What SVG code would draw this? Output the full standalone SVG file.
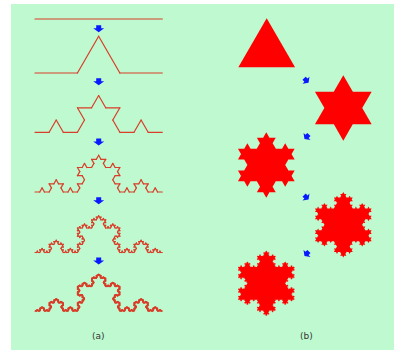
<svg xmlns="http://www.w3.org/2000/svg" xmlns:xlink="http://www.w3.org/1999/xlink" width="394" height="350" viewBox="0 0 394 350">
<style>
.curve{fill:none;stroke:#d83e2a;stroke-linecap:round}
.flake{fill:#ff0000;stroke:none}
.arrow{fill:#0a1aff}
.lbl{font-family:"DejaVu Sans",sans-serif;font-size:9px;fill:#333;text-anchor:middle}
</style>
<defs>
<path id="k0" d="M0,0H1"/>
<g id="k1"><use href="#k0" transform="scale(0.333333)"/><use href="#k0" transform="translate(0.333333,0) rotate(-60) scale(0.333333)"/><use href="#k0" transform="translate(0.5,-0.288675) rotate(60) scale(0.333333)"/><use href="#k0" transform="translate(0.666667,0) scale(0.333333)"/></g>
<g id="k2"><use href="#k1" transform="scale(0.333333)"/><use href="#k1" transform="translate(0.333333,0) rotate(-60) scale(0.333333)"/><use href="#k1" transform="translate(0.5,-0.288675) rotate(60) scale(0.333333)"/><use href="#k1" transform="translate(0.666667,0) scale(0.333333)"/></g>
<g id="k3"><use href="#k2" transform="scale(0.333333)"/><use href="#k2" transform="translate(0.333333,0) rotate(-60) scale(0.333333)"/><use href="#k2" transform="translate(0.5,-0.288675) rotate(60) scale(0.333333)"/><use href="#k2" transform="translate(0.666667,0) scale(0.333333)"/></g>
<g id="k4"><use href="#k3" transform="scale(0.333333)"/><use href="#k3" transform="translate(0.333333,0) rotate(-60) scale(0.333333)"/><use href="#k3" transform="translate(0.5,-0.288675) rotate(60) scale(0.333333)"/><use href="#k3" transform="translate(0.666667,0) scale(0.333333)"/></g>
<g id="k5"><use href="#k4" transform="scale(0.333333)"/><use href="#k4" transform="translate(0.333333,0) rotate(-60) scale(0.333333)"/><use href="#k4" transform="translate(0.5,-0.288675) rotate(60) scale(0.333333)"/><use href="#k4" transform="translate(0.666667,0) scale(0.333333)"/></g>
<polygon id="bump" points="0.333333,0 0.5,-0.288675 0.666667,0 0.5,0.1"/>
<g id="r1"><use href="#bump"/></g>
<g id="r2"><use href="#bump"/><use href="#r1" transform="scale(0.333333)"/><use href="#r1" transform="translate(0.333333,0) rotate(-60) scale(0.333333)"/><use href="#r1" transform="translate(0.5,-0.288675) rotate(60) scale(0.333333)"/><use href="#r1" transform="translate(0.666667,0) scale(0.333333)"/></g>
<g id="r3"><use href="#bump"/><use href="#r2" transform="scale(0.333333)"/><use href="#r2" transform="translate(0.333333,0) rotate(-60) scale(0.333333)"/><use href="#r2" transform="translate(0.5,-0.288675) rotate(60) scale(0.333333)"/><use href="#r2" transform="translate(0.666667,0) scale(0.333333)"/></g>
<g id="r4"><use href="#bump"/><use href="#r3" transform="scale(0.333333)"/><use href="#r3" transform="translate(0.333333,0) rotate(-60) scale(0.333333)"/><use href="#r3" transform="translate(0.5,-0.288675) rotate(60) scale(0.333333)"/><use href="#r3" transform="translate(0.666667,0) scale(0.333333)"/></g>
<polygon id="tri" points="0,-0.57735 0.5,0.288675 -0.5,0.288675"/>
<path id="arr" d="M-2.5,-3.5H2.5V-0.5H5.5L0,3.5L-5.5,-0.5H-2.5Z"/>
</defs>
<rect x="11" y="4" width="383" height="346" fill="#bff9cf"/>
<g id="curve0" class="curve" stroke-width="1.2"><path d="M35,19H162.3"/></g>
<g id="curve1" class="curve" transform="translate(35,73) scale(127.3)" stroke-width="0.02828"><use href="#k1"/></g>
<g id="curve2" class="curve" transform="translate(35,132.3) scale(127.3)" stroke-width="0.08484"><use href="#k2"/></g>
<g id="curve3" class="curve" transform="translate(35,192) scale(127.3)" stroke-width="0.25452"><use href="#k3"/></g>
<g id="curve4" class="curve" transform="translate(35,252.5) scale(127.3)" stroke-width="0.76355"><use href="#k4"/></g>
<g id="curve5" class="curve" transform="translate(35,311) scale(127.3)" stroke-width="2.29065"><use href="#k5"/></g>
<g id="flake0" class="flake" transform="translate(266.7,51) scale(56.7)"><use href="#tri"/></g>
<g id="flake1" class="flake" transform="translate(343.3,108) scale(56.7)"><use href="#tri"/><use href="#r1" transform="translate(0,-0.57735) rotate(60)"/><use href="#r1" transform="translate(0.5,0.288675) rotate(180)"/><use href="#r1" transform="translate(-0.5,0.288675) rotate(-60)"/></g>
<g id="flake2" class="flake" transform="translate(266.3,165) scale(56.7)"><use href="#tri"/><use href="#r2" transform="translate(0,-0.57735) rotate(60)"/><use href="#r2" transform="translate(0.5,0.288675) rotate(180)"/><use href="#r2" transform="translate(-0.5,0.288675) rotate(-60)"/></g>
<g id="flake3" class="flake" transform="translate(343.3,224.8) scale(56.7)"><use href="#tri"/><use href="#r3" transform="translate(0,-0.57735) rotate(60)"/><use href="#r3" transform="translate(0.5,0.288675) rotate(180)"/><use href="#r3" transform="translate(-0.5,0.288675) rotate(-60)"/></g>
<g id="flake4" class="flake" transform="translate(266.3,283.3) scale(56.7)"><use href="#tri"/><use href="#r4" transform="translate(0,-0.57735) rotate(60)"/><use href="#r4" transform="translate(0.5,0.288675) rotate(180)"/><use href="#r4" transform="translate(-0.5,0.288675) rotate(-60)"/></g>
<g id="connectors" class="arrow">
<use href="#arr" transform="translate(98.7,28.8)"/>
<use href="#arr" transform="translate(98.7,81.7)"/>
<use href="#arr" transform="translate(98.7,142)"/>
<use href="#arr" transform="translate(98.7,200.8)"/>
<use href="#arr" transform="translate(98.7,261)"/>
<use href="#arr" transform="translate(306.3,80.5) rotate(-45) scale(0.9)"/>
<use href="#arr" transform="translate(306.7,136.7) rotate(45) scale(0.9)"/>
<use href="#arr" transform="translate(306.3,197.3) rotate(-45) scale(0.9)"/>
<use href="#arr" transform="translate(306.7,253.7) rotate(45) scale(0.9)"/>
</g>
<g id="labels">
<text class="lbl" x="98.3" y="338.5">(a)</text>
<text class="lbl" x="306.3" y="338.5">(b)</text>
</g>
</svg>
